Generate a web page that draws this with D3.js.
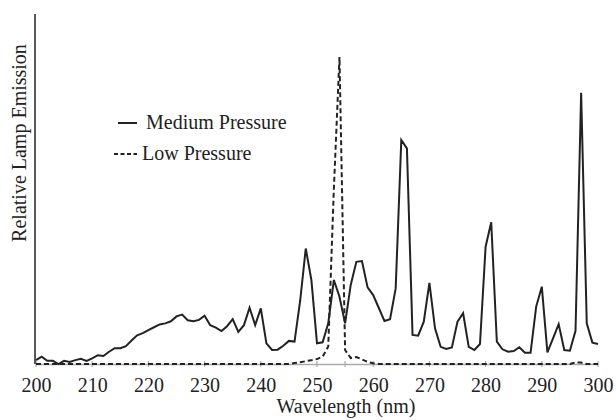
<!DOCTYPE html>
<html lang="en">
<head>
<meta charset="UTF-8">
<script src="https://d3js.org/d3.v7.min.js"></script>
<style>
  body { margin: 0; background: #fff; }
</style>
</head>
<body>
<script>
// wavelength, 1 nm steps
const wavelengths = d3.range(200, 301);

// medium pressure lamp (relative units, 0-100)
const mediumPressure = [
  1.1, 2.1, 0.9, 0.9, 0.0, 0.9, 0.6, 1.1, 1.5, 0.9,
  1.6, 2.5, 2.3, 3.5, 4.5, 4.5, 5.1, 6.7, 8.2, 8.8,
  9.7, 10.5, 11.3, 11.6, 12.2, 13.6, 14.1, 12.5, 12.2, 12.6,
  13.8, 11.1, 10.4, 9.4, 10.8, 12.8, 9.2, 11.1, 16.1, 11.1,
  15.9, 5.9, 4.0, 4.1, 5.2, 6.6, 6.4, 18.0, 33.0, 24.0,
  5.9, 6.2, 11.6, 24.0, 19.2, 11.6, 22.6, 29.2, 29.4, 21.9,
  19.7, 16.0, 12.3, 12.8, 21.6, 64.0, 61.6, 8.3, 8.1, 12.1,
  23.2, 10.2, 4.9, 4.3, 4.7, 12.1, 14.5, 4.9, 4.0, 5.7,
  33.5, 40.5, 6.4, 4.2, 3.5, 3.7, 4.8, 3.2, 3.2, 16.4,
  22.1, 3.3, 7.3, 11.4, 4.0, 3.8, 9.5, 77.5, 11.6, 6.1,
  5.7
];

// low pressure lamp
const lowPressure = [
  0, 0, 0, 0, 0, 0, 0, 0, 0, 0,
  0, 0, 0, 0, 0, 0, 0, 0, 0, 0,
  0, 0, 0, 0, 0, 0, 0, 0, 0, 0,
  0, 0, 0, 0, 0, 0, 0, 0, 0, 0,
  0, 0, 0, 0, 0, 0, 0.3, 0.5, 0.8, 1.1,
  1.4, 2.1, 5.0, 50.0, 87.7, 4.0, 1.7, 2.0, 1.3, 0.6,
  0.2, 0, 0, 0, 0, 0, 0, 0, 0, 0,
  0, 0, 0, 0, 0, 0, 0, 0, 0, 0,
  0, 0, 0, 0, 0, 0, 0, 0, 0, 0,
  0, 0, 0, 0, 0, 0, 0.4, 0.4, 0, 0,
  0
];

const xTicks = d3.range(200, 301, 10);
const xMinorTicks = [255];
const seriesNames = ["Medium Pressure", "Low Pressure"];

const width = 616, height = 420;
const serif = "'Liberation Serif', 'Times New Roman', serif";
const x = d3.scaleLinear().domain([200, 300]).range([36, 598]);
const y = d3.scaleLinear().domain([0, 100]).range([364, 14]);

const svg = d3.select("body").append("svg")
  .attr("width", width)
  .attr("height", height)
  .style("font-family", serif);

// x axis (grey line, ticks crossing it)
const xAxis = svg.append("g")
  .attr("transform", `translate(0,${y(0)})`)
  .call(d3.axisBottom(x).tickValues(xTicks).tickSize(0).tickPadding(14).tickFormat(d3.format("d")));
xAxis.attr("font-family", null);
xAxis.select(".domain").attr("stroke", "#aaa").attr("stroke-width", 1.5);
xAxis.selectAll("text")
  .style("font-family", serif)
  .style("font-size", "20px")
  .attr("fill", "#222");

svg.append("g")
  .selectAll("line")
  .data(xTicks.concat(xMinorTicks))
  .join("line")
  .attr("x1", d => x(d)).attr("x2", d => x(d))
  .attr("y1", y(0) - 3).attr("y2", y(0) + 3)
  .attr("stroke", "#aaa")
  .attr("stroke-width", 1.2);

// y axis line only
svg.append("line")
  .attr("x1", x(200) - 1).attr("x2", x(200) - 1)
  .attr("y1", y(100)).attr("y2", y(0))
  .attr("stroke", "#222")
  .attr("stroke-width", 1.5);

const line = d3.line()
  .x((d, i) => x(wavelengths[i]))
  .y(d => y(d));

svg.append("path")
  .datum(lowPressure)
  .attr("fill", "none")
  .attr("stroke", "#222")
  .attr("stroke-width", 2)
  .attr("stroke-dasharray", "5,3")
  .attr("d", line);

svg.append("path")
  .datum(mediumPressure)
  .attr("fill", "none")
  .attr("stroke", "#222")
  .attr("stroke-width", 2)
  .attr("d", line);

// axis titles
svg.append("text")
  .attr("x", 346)
  .attr("y", 413)
  .attr("text-anchor", "middle")
  .style("font-family", serif)
  .style("font-size", "20px")
  .attr("fill", "#222")
  .text("Wavelength (nm)");

svg.append("text")
  .attr("transform", "translate(26,143) rotate(-90)")
  .attr("text-anchor", "middle")
  .style("font-family", serif)
  .style("font-size", "20px")
  .attr("fill", "#222")
  .text("Relative Lamp Emission");

// legend
const legend = svg.append("g");
const legendRows = [
  { name: seriesNames[0], x1: 118, dash: null, y: 123, tx: 146 },
  { name: seriesNames[1], x1: 114, dash: "4,2.5", y: 154, tx: 142 }
];
legendRows.forEach(r => {
  legend.append("line")
    .attr("x1", r.x1).attr("x2", 137)
    .attr("y1", r.y).attr("y2", r.y)
    .attr("stroke", "#222")
    .attr("stroke-width", 2)
    .attr("stroke-dasharray", r.dash);
  legend.append("text")
    .attr("x", r.tx)
    .attr("y", r.y + 6)
    .style("font-family", serif)
    .style("font-size", "20px")
    .attr("fill", "#222")
    .text(r.name);
});
</script>
</body>
</html>
